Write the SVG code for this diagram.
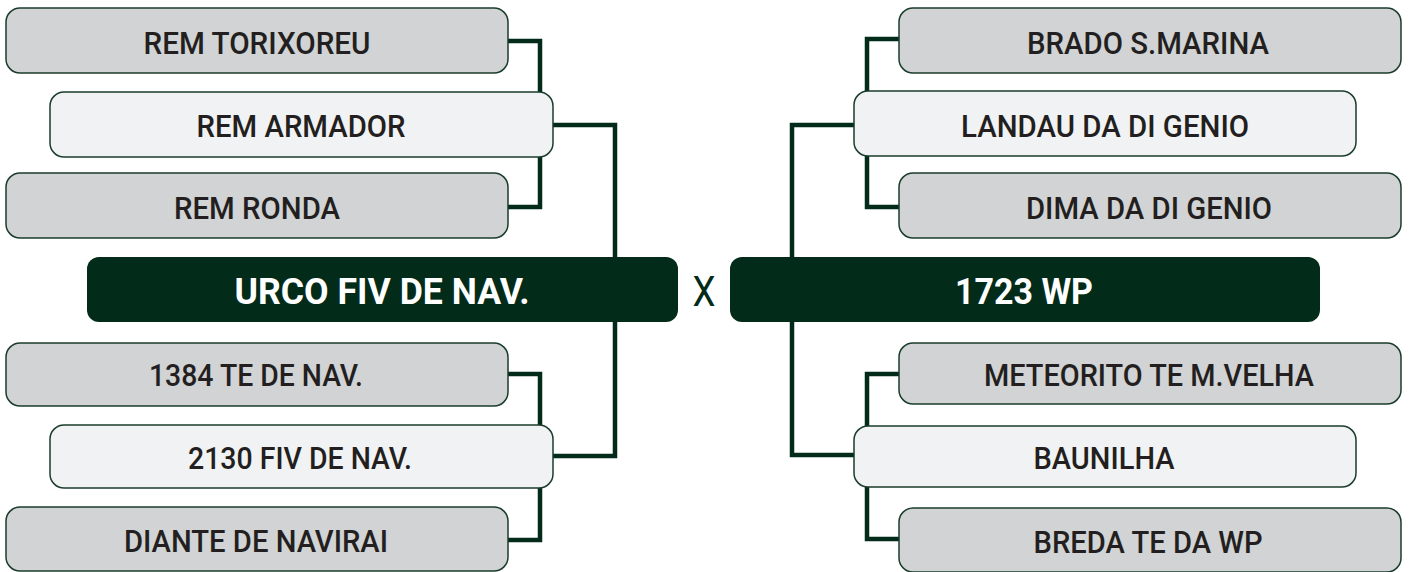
<svg xmlns="http://www.w3.org/2000/svg" width="1410" height="572" viewBox="0 0 1410 572">
<style>
.g{fill:#d1d3d4;stroke:#1a3d2b;stroke-width:1.5}
.l{fill:#f1f2f3;stroke:#1a3d2b;stroke-width:1.5}
.d{fill:#022b19}
.t{font-family:Roboto,"Liberation Sans",sans-serif;font-weight:500;font-size:30.5px;fill:#231f20;text-anchor:middle}
.w{font-family:Roboto,"Liberation Sans",sans-serif;font-weight:700;font-size:36px;fill:#ffffff;text-anchor:middle}
.c{fill:none;stroke:#022b19;stroke-width:4.5}
</style>
<rect width="1410" height="572" fill="#ffffff"/>
<g id="connectors">
<path class="c" d="M508,41 H540 V207 H508"/>
<path class="c" d="M553,125 H615 V456 H553"/>
<path class="c" d="M508,374 H540 V540 H508"/>
<path class="c" d="M899,39 H867 V207 H899"/>
<path class="c" d="M854,125 H792 V455 H854"/>
<path class="c" d="M899,374 H867 V539 H899"/>
</g>
<g id="n1"><rect class="g" x="6" y="8" width="502" height="65" rx="14"/><text class="t" x="257" y="53.5" textLength="227" lengthAdjust="spacingAndGlyphs">REM TORIXOREU</text></g>
<g id="n2"><rect class="l" x="50" y="92" width="503" height="65" rx="14"/><text class="t" x="301" y="137" textLength="209" lengthAdjust="spacingAndGlyphs">REM ARMADOR</text></g>
<g id="n3"><rect class="g" x="6" y="173" width="502" height="65" rx="14"/><text class="t" x="257" y="219" textLength="166" lengthAdjust="spacingAndGlyphs">REM RONDA</text></g>
<g id="n4"><rect class="d" x="87" y="257" width="591" height="65" rx="12"/><text class="w" x="382" y="304" textLength="295" lengthAdjust="spacingAndGlyphs">URCO FIV DE NAV.</text></g>
<g id="n5"><rect class="g" x="6" y="343" width="502" height="63" rx="14"/><text class="t" x="256" y="386" textLength="214" lengthAdjust="spacingAndGlyphs">1384 TE DE NAV.</text></g>
<g id="n6"><rect class="l" x="50" y="425" width="503" height="63" rx="14"/><text class="t" x="300" y="469" textLength="224" lengthAdjust="spacingAndGlyphs">2130 FIV DE NAV.</text></g>
<g id="n7"><rect class="g" x="6" y="507" width="502" height="64" rx="14"/><text class="t" x="256" y="552" textLength="264" lengthAdjust="spacingAndGlyphs">DIANTE DE NAVIRAI</text></g>
<g id="vs"><text x="704" y="306" font-family="Roboto,'Liberation Sans',sans-serif" font-weight="400" font-size="42" fill="#022b19" text-anchor="middle" textLength="23" lengthAdjust="spacingAndGlyphs">X</text></g>
<g id="n8"><rect class="g" x="899" y="8" width="502" height="65" rx="14"/><text class="t" x="1148" y="53.5" textLength="242" lengthAdjust="spacingAndGlyphs">BRADO S.MARINA</text></g>
<g id="n9"><rect class="l" x="854" y="91" width="502" height="65" rx="14"/><text class="t" x="1105" y="137" textLength="288" lengthAdjust="spacingAndGlyphs">LANDAU DA DI GENIO</text></g>
<g id="n10"><rect class="g" x="899" y="173" width="502" height="65" rx="14"/><text class="t" x="1149" y="219" textLength="246" lengthAdjust="spacingAndGlyphs">DIMA DA DI GENIO</text></g>
<g id="n11"><rect class="d" x="730" y="257" width="590" height="65" rx="12"/><text class="w" x="1024" y="304" textLength="138" lengthAdjust="spacingAndGlyphs">1723 WP</text></g>
<g id="n12"><rect class="g" x="899" y="343" width="502" height="61" rx="14"/><text class="t" x="1149" y="386" textLength="330" lengthAdjust="spacingAndGlyphs">METEORITO TE M.VELHA</text></g>
<g id="n13"><rect class="l" x="854" y="426" width="502" height="61" rx="14"/><text class="t" x="1104" y="469" textLength="141" lengthAdjust="spacingAndGlyphs">BAUNILHA</text></g>
<g id="n14"><rect class="g" x="899" y="508" width="502" height="64" rx="14"/><text class="t" x="1148" y="553" textLength="229" lengthAdjust="spacingAndGlyphs">BREDA TE DA WP</text></g>
</svg>
